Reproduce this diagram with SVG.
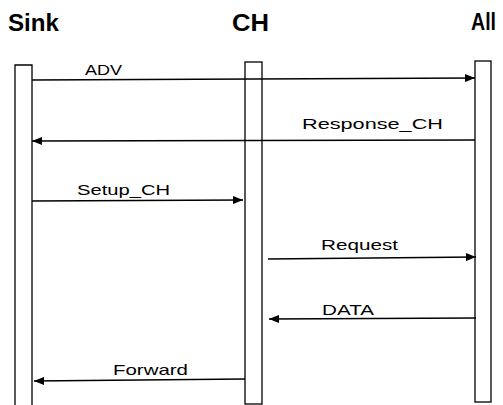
<svg xmlns="http://www.w3.org/2000/svg" width="503" height="405" viewBox="0 0 503 405">
<style>
.hdr{font-family:"Liberation Sans",Arial,sans-serif;font-size:24px;font-weight:bold;fill:#000}
.lbl{font-family:"Liberation Sans",Arial,sans-serif;font-size:15px;fill:#000}
.bar{fill:#fff;stroke:#000;stroke-width:1.3}
.msg{fill:none;stroke:#000;stroke-width:1.3;marker-end:url(#ah)}
</style>
<defs>
<marker id="ah" viewBox="0 0 10 8" refX="10" refY="4" markerWidth="10" markerHeight="8" markerUnits="userSpaceOnUse" orient="auto">
<path d="M0,0 L10,4 L0,8 Z" fill="#000"/>
</marker>
</defs>
<rect width="503" height="405" fill="#fff"/>
<g id="sink">
<path class="bar" d="M15,405 V65 H32 V405"/>
<text class="hdr" x="8" y="31" textLength="51" lengthAdjust="spacingAndGlyphs">Sink</text>
</g>
<g id="ch">
<rect class="bar" x="245" y="62" width="17" height="342"/>
<text class="hdr" x="232" y="31" textLength="37" lengthAdjust="spacingAndGlyphs">CH</text>
</g>
<g id="all">
<rect class="bar" x="475" y="61" width="16" height="341"/>
<text class="hdr" x="471" y="30" textLength="25" lengthAdjust="spacingAndGlyphs">All</text>
</g>
<g id="connectors">
<path class="msg" d="M32,80 L475,78"/>
<path class="msg" d="M475,140 L32,141"/>
<path class="msg" d="M32,201 L243,200"/>
<path class="msg" d="M268,259 L476,257"/>
<path class="msg" d="M476,318 L269,319"/>
<path class="msg" d="M245,379 L34,381"/>
<text class="lbl" x="85" y="75" textLength="37" lengthAdjust="spacingAndGlyphs">ADV</text>
<text class="lbl" x="302" y="129" textLength="141" lengthAdjust="spacingAndGlyphs">Response_CH</text>
<text class="lbl" x="77" y="195" textLength="93" lengthAdjust="spacingAndGlyphs">Setup_CH</text>
<text class="lbl" x="321" y="250" textLength="77" lengthAdjust="spacingAndGlyphs">Request</text>
<text class="lbl" x="322" y="315" textLength="52" lengthAdjust="spacingAndGlyphs">DATA</text>
<text class="lbl" x="113" y="375" textLength="75" lengthAdjust="spacingAndGlyphs">Forward</text>
</g>
</svg>
